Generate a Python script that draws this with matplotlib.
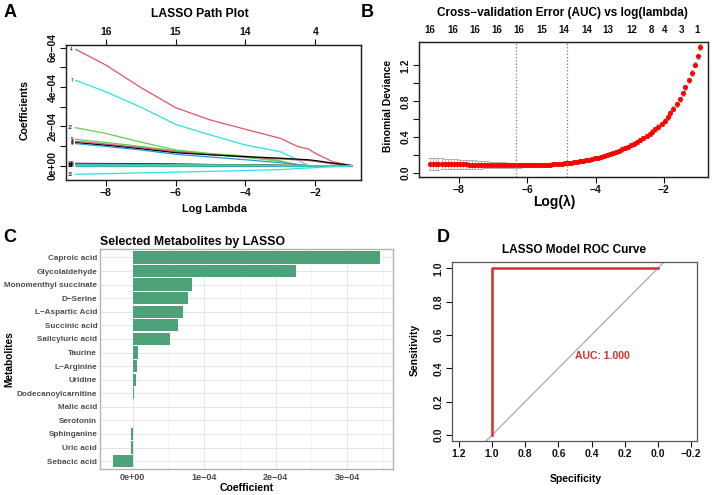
import numpy as np
import matplotlib
matplotlib.use("Agg")
import matplotlib.pyplot as plt

plt.rcParams['font.family'] = ['Liberation Sans', 'DejaVu Sans']
plt.rcParams['axes.unicode_minus'] = True

# --- Panel A: LASSO coefficient paths (values x1e-4) ---
path_lambda = [-8.86, -8.0, -7.0, -6.0, -5.0, -4.0, -3.0, -2.5, -2.2, -2.0, -1.5, -0.94]
paths = {
    '4':  ('#DF536B', [5.92, 5.12, 3.98, 2.95, 2.32, 1.85, 1.39, 0.97, 0.85, 0.63, 0.20, 0.0]),
    '7':  ('#28E2E5', [4.34, 3.76, 2.98, 2.10, 1.56, 1.05, 0.71, 0.29, 0.0, 0.0, 0.0, 0.0]),
    '12': ('#61D04F', [1.93, 1.64, 1.20, 0.80, 0.62, 0.49, 0.25, 0.0, 0.0, 0.0, 0.0, 0.0]),
    '5':  ('#61D04F', [1.34, 1.18, 0.98, 0.76, 0.58, 0.42, 0.22, 0.06, 0.0, 0.0, 0.0, 0.0]),
    '3':  ('#DF536B', [1.24, 1.10, 0.92, 0.72, 0.56, 0.44, 0.34, 0.29, 0.26, 0.22, 0.09, 0.0]),
    '1':  ('#000000', [1.17, 1.04, 0.86, 0.66, 0.55, 0.46, 0.38, 0.33, 0.30, 0.26, 0.13, 0.0]),
    '9':  ('#2297E6', [1.12, 0.98, 0.80, 0.58, 0.44, 0.30, 0.15, 0.05, 0.0, 0.0, 0.0, 0.0]),
    '6':  ('#CD0BBC', [0.12, 0.11, 0.10, 0.08, 0.06, 0.04, 0.02, 0.0, 0.0, 0.0, 0.0, 0.0]),
    '13': ('#000000', [0.10, 0.09, 0.08, 0.07, 0.05, 0.03, 0.01, 0.0, 0.0, 0.0, 0.0, 0.0]),
    '2':  ('#DF536B', [0.08, 0.07, 0.06, 0.05, 0.04, 0.03, 0.02, 0.01, 0.0, 0.0, 0.0, 0.0]),
    '14': ('#61D04F', [0.06, 0.06, 0.05, 0.05, 0.04, 0.03, 0.02, 0.01, 0.0, 0.0, 0.0, 0.0]),
    '10': ('#2297E6', [0.03, 0.03, 0.03, 0.02, 0.02, 0.01, 0.0, 0.0, 0.0, 0.0, 0.0, 0.0]),
    '16': ('#2297E6', [0.0, 0.0, 0.0, 0.0, 0.0, 0.0, 0.0, 0.0, 0.0, 0.0, 0.0, 0.0]),
    '11': ('#28E2E5', [0.02, 0.02, 0.02, 0.01, 0.01, 0.01, 0.0, 0.0, 0.0, 0.0, 0.0, 0.0]),
    '8':  ('#61D04F', [-0.01, -0.01, -0.01, -0.01, 0.0, 0.0, 0.0, 0.0, 0.0, 0.0, 0.0, 0.0]),
    '15': ('#28E2E5', [-0.44, -0.41, -0.37, -0.33, -0.29, -0.25, -0.20, -0.15, -0.12, -0.10, -0.05, 0.0]),
}
a_top_ticks = [-8, -6, -4, -2]
a_top_labels = ['16', '15', '14', '4']

# --- Panel B: cross-validation curve ---
cv_loglam = [-8.86, -8.77, -8.68, -8.60, -8.51, -8.42, -8.33, -8.24, -8.15, -8.07,
             -7.98, -7.89, -7.80, -7.71, -7.63, -7.54, -7.45, -7.36, -7.27, -7.19,
             -7.10, -7.01, -6.92, -6.83, -6.75, -6.66, -6.57, -6.48, -6.39, -6.30,
             -6.22, -6.13, -6.04, -5.95, -5.86, -5.78, -5.69, -5.60, -5.51, -5.42,
             -5.34, -5.25, -5.16, -5.07, -4.98, -4.90, -4.81, -4.72, -4.63, -4.54,
             -4.45, -4.37, -4.28, -4.19, -4.10, -4.01, -3.93, -3.84, -3.75, -3.66,
             -3.57, -3.49, -3.40, -3.31, -3.22, -3.13, -3.04, -2.96, -2.87, -2.78,
             -2.69, -2.60, -2.51, -2.42, -2.34, -2.25, -2.16, -2.07, -1.98, -1.89,
             -1.81, -1.72, -1.63, -1.54, -1.45, -1.37, -1.28, -1.19, -1.10, -1.01,
             -0.93]
cv_dev = [0.103, 0.102, 0.102, 0.101, 0.101, 0.100, 0.099, 0.099, 0.098, 0.097,
          0.097, 0.096, 0.095, 0.094, 0.094, 0.093, 0.092, 0.091, 0.091, 0.090,
          0.089, 0.088, 0.088, 0.087, 0.086, 0.086, 0.085, 0.085, 0.084, 0.084,
          0.084, 0.084, 0.085, 0.085, 0.086, 0.087, 0.088, 0.089, 0.090, 0.092,
          0.094, 0.096, 0.098, 0.101, 0.104, 0.107, 0.111, 0.115, 0.119, 0.124,
          0.129, 0.135, 0.141, 0.148, 0.155, 0.163, 0.171, 0.180, 0.190, 0.200,
          0.211, 0.223, 0.235, 0.248, 0.262, 0.277, 0.293, 0.310, 0.328, 0.347,
          0.367, 0.389, 0.412, 0.434, 0.460, 0.486, 0.516, 0.546, 0.583, 0.621,
          0.666, 0.714, 0.767, 0.823, 0.890, 0.957, 1.032, 1.115, 1.208, 1.300,
          1.406]
cv_sd = [0.068, 0.067, 0.065, 0.064, 0.062, 0.061, 0.059, 0.058, 0.056, 0.055,
         0.053, 0.052, 0.050, 0.049, 0.047, 0.046, 0.044, 0.043, 0.041, 0.040,
         0.038, 0.037, 0.035, 0.034, 0.032, 0.031, 0.029, 0.028, 0.026, 0.025,
         0.024, 0.023, 0.023, 0.023, 0.023, 0.023, 0.023, 0.023, 0.023, 0.022,
         0.022, 0.022, 0.022, 0.022, 0.022, 0.022, 0.022, 0.022, 0.022, 0.022,
         0.022, 0.022, 0.022, 0.022, 0.022, 0.022, 0.022, 0.022, 0.022, 0.023,
         0.023, 0.023, 0.023, 0.023, 0.023, 0.023, 0.023, 0.023, 0.023, 0.024,
         0.024, 0.024, 0.025, 0.025, 0.025, 0.026, 0.026, 0.026, 0.027, 0.027,
         0.027, 0.028, 0.028, 0.028, 0.029, 0.029, 0.029, 0.030, 0.030, 0.030,
         0.030]
lambda_min = -6.32
lambda_1se = -4.83
b_top_pos = [-8.85, -8.17, -7.53, -6.90, -6.24, -5.58, -4.93, -4.27, -3.63, -2.95, -2.37, -1.98, -1.49, -1.02]
b_top_labels = ['16', '16', '16', '16', '16', '15', '14', '14', '13', '12', '8', '4', '3', '1']

# --- Panel C: selected metabolites ---
metabolites = ['Caproic acid', 'Glycolaldehyde', 'Monomenthyl succinate', 'D\u2212Serine',
               'L\u2212Aspartic Acid', 'Succinic acid', 'Salicyluric acid', 'Taurine',
               'L\u2212Arginine', 'Uridine', 'Dodecanoylcarnitine', 'Malic acid',
               'Serotonin', 'Sphinganine', 'Uric acid', 'Sebacic acid']
coef_e4 = [3.46, 2.28, 0.836, 0.78, 0.71, 0.63, 0.52, 0.07, 0.056, 0.046,
           0.018, 0.004, 0.003, -0.02, -0.028, -0.27]

# --- Panel D: ROC ---
roc_spec = [1.0, 1.0, 0.0]
roc_sens = [0.0, 1.0, 1.0]
auc_value = 1.000

W, H = 714, 495


def px_axes(x0, y0, x1, y1):
    return [x0 / W, 1 - y1 / H, (x1 - x0) / W, (y1 - y0) / H]


def r_style(ax):
    for s in ax.spines.values():
        s.set_color('#222222')
        s.set_linewidth(0.9)
    ax.tick_params(direction='out', length=4, width=0.8, pad=2, labelsize=7.5, colors='#111111')
    for lab in ax.get_xticklabels() + ax.get_yticklabels():
        lab.set_fontweight('bold')


fig = plt.figure(figsize=(7.14, 4.95), dpi=100)

# ---------- A ----------
axA = fig.add_axes(px_axes(66, 45, 361, 180))
for lab, (col, vals) in paths.items():
    axA.plot(path_lambda, np.array(vals) * 1e-4, color=col, lw=0.9)
    axA.text(path_lambda[0] - 0.08, vals[0] * 1e-4, lab, fontsize=3.3, ha='right', va='center')
axA.set_xlim(-9.14, -0.69)
axA.set_ylim(-0.73e-4, 6.14e-4)
axA.set_xticks([-8, -6, -4, -2])
axA.set_xticklabels(['\u22128', '\u22126', '\u22124', '\u22122'])
axA.set_yticks([i * 1e-4 for i in range(7)])
axA.set_yticklabels(['0e+00', '', '2e\u221204', '', '4e\u221204', '', '6e\u221204'],
                    rotation=90, va='center')
r_style(axA)
axAt = axA.twiny()
axAt.set_xlim(axA.get_xlim())
axAt.set_xticks(a_top_ticks)
axAt.set_xticklabels(a_top_labels)
r_style(axAt)
fig.text(200 / W, 1 - 17 / H, 'LASSO Path Plot', ha='center', va='baseline', fontsize=8.7, fontweight='bold')
fig.text(214 / W, 1 - 212 / H, 'Log Lambda', ha='center', va='baseline', fontsize=7.8, fontweight='bold')
fig.text(25 / W, 1 - 110 / H, 'Coefficients', ha='center', va='center', rotation=90, fontsize=7.6, fontweight='bold')

# ---------- B ----------
axB = fig.add_axes(px_axes(419, 42, 708, 177))
axB.errorbar(cv_loglam, cv_dev, yerr=cv_sd, fmt='none', ecolor='#A9A9A9', elinewidth=0.6, capsize=1.2, capthick=0.6)
axB.plot(cv_loglam, cv_dev, 'o', color='red', ms=3.7, mew=0)
axB.axvline(lambda_min, color='#777777', ls=':', lw=0.9)
axB.axvline(lambda_1se, color='#777777', ls=':', lw=0.9)
axB.set_xlim(-9.17, -0.71)
axB.set_ylim(-0.045, 1.46)
axB.set_xticks([-8, -6, -4, -2])
axB.set_xticklabels(['\u22128', '\u22126', '\u22124', '\u22122'])
axB.set_yticks([0, 0.2, 0.4, 0.6, 0.8, 1.0, 1.2])
axB.set_yticklabels(['0.0', '', '0.4', '', '0.8', '', '1.2'], rotation=90, va='center')
r_style(axB)
axBt = axB.twiny()
axBt.set_xlim(axB.get_xlim())
axBt.set_xticks(b_top_pos)
axBt.set_xticklabels(b_top_labels)
r_style(axBt)
axBt.tick_params(length=0, pad=5, labelsize=7)
fig.text(562 / W, 1 - 16 / H, 'Cross\u2212validation Error (AUC) vs log(lambda)', ha='center', va='baseline',
         fontsize=8.5, fontweight='bold')
fig.text(554 / W, 1 - 206 / H, 'Log(\u03bb)', ha='center', va='baseline', fontsize=10, fontweight='bold')
fig.text(388 / W, 1 - 106 / H, 'Binomial Deviance', ha='center', va='center', rotation=90, fontsize=7.4, fontweight='bold')

# ---------- C ----------
axC = fig.add_axes(px_axes(100, 249.3, 392.7, 469.3))
ypos = np.arange(len(metabolites))[::-1] + 1
axC.barh(ypos, np.array(coef_e4) * 1e-4, height=0.9, color='#4DA27A', zorder=3)
axC.set_xlim(-0.457e-4, 3.64e-4)
axC.set_ylim(0.4, len(metabolites) + 0.6)
axC.set_yticks(ypos)
axC.set_yticklabels(metabolites)
axC.set_xticks([0, 1e-4, 2e-4, 3e-4])
axC.set_xticklabels(['0e+00', '1e\u221204', '2e\u221204', '3e\u221204'])
axC.set_xticks([0.5e-4, 1.5e-4, 2.5e-4, 3.5e-4], minor=True)
axC.grid(True, which='major', color='#E5E5E5', lw=0.7, zorder=0)
axC.grid(True, which='minor', axis='x', color='#F0F0F0', lw=0.5, zorder=0)
axC.set_axisbelow(True)
for s in axC.spines.values():
    s.set_color('#B3B3B3')
    s.set_linewidth(1.0)
axC.tick_params(which='both', length=0, pad=2.5, labelsize=6.5, colors='#4D4D4D')
axC.tick_params(axis='y', labelsize=5.9, pad=2)
for lab in axC.get_xticklabels() + axC.get_yticklabels():
    lab.set_fontweight('bold')
fig.text(100 / W, 1 - 245 / H, 'Selected Metabolites by LASSO', ha='left', va='baseline', fontsize=8.8, fontweight='bold')
fig.text(247 / W, 1 - 491 / H, 'Coefficient', ha='center', va='baseline', fontsize=7.6, fontweight='bold')
fig.text(9 / W, 1 - 359 / H, 'Metabolites', ha='center', va='center', rotation=90, fontsize=7.3, fontweight='bold')

# ---------- D ----------
axD = fig.add_axes(px_axes(451.7, 262.3, 696.7, 441))
axD.axline((1.0, 0.0), (0.0, 1.0), color='#AAAAAA', lw=0.9)
axD.plot(roc_spec, roc_sens, color='#D32F2F', lw=1.8)
axD.set_xlim(1.244, -0.235)
axD.set_ylim(-0.036, 1.036)
axD.set_xticks([1.2, 1.0, 0.8, 0.6, 0.4, 0.2, 0.0, -0.2])
axD.set_xticklabels(['1.2', '1.0', '0.8', '0.6', '0.4', '0.2', '0.0', '\u22120.2'])
axD.set_yticks([0.0, 0.2, 0.4, 0.6, 0.8, 1.0])
axD.set_yticklabels(['0.0', '0.2', '0.4', '0.6', '0.8', '1.0'], rotation=90, va='center')
r_style(axD)
for s in axD.spines.values():
    s.set_color('#555555')
axD.text(0.5, 0.476, 'AUC: %.3f' % auc_value, color='#D32F2F', fontsize=7.5, fontweight='bold', ha='left', va='center')
fig.text(574 / W, 1 - 253 / H, 'LASSO Model ROC Curve', ha='center', va='baseline', fontsize=8.5, fontweight='bold')
fig.text(576 / W, 1 - 482 / H, 'Specificity', ha='center', va='baseline', fontsize=7.5, fontweight='bold')
fig.text(415 / W, 1 - 350 / H, 'Sensitivity', ha='center', va='center', rotation=90, fontsize=7.5, fontweight='bold')

# ---------- panel letters ----------
for letter, x, y in [('A', 4, 17), ('B', 361, 17), ('C', 3, 242), ('D', 437, 242)]:
    fig.text(x / W, 1 - y / H, letter, ha='left', va='baseline', fontsize=13, fontweight='bold')

fig.savefig('out.png', dpi=100)
